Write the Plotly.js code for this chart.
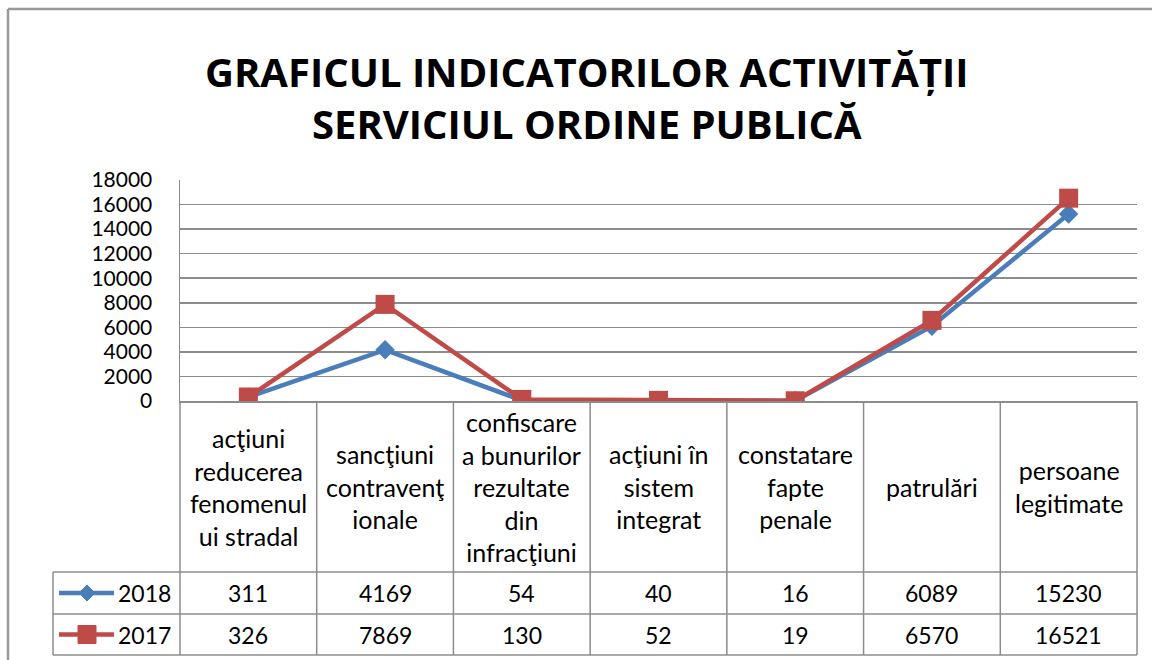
<!DOCTYPE html>
<html>
<head>
<meta charset="utf-8">
<script src="https://cdn.plot.ly/plotly-3.0.1.min.js"></script>
<style>
html,body{margin:0;padding:0;background:#fff;}
#chart{width:1152px;height:660px;}
</style>
</head>
<body>
<div id="chart"></div>
<script>
// ---- data ----
const titleLines = ["GRAFICUL INDICATORILOR ACTIVITĂȚII", "SERVICIUL ORDINE PUBLICĂ"];
const categories = [
  "acţiuni<br>reducerea<br>fenomenul<br>ui stradal",
  "sancţiuni<br>contravenţ<br>ionale",
  "confiscare<br>a bunurilor<br>rezultate<br>din<br>infracţiuni",
  "acţiuni în<br>sistem<br>integrat",
  "constatare<br>fapte<br>penale",
  "patrulări",
  "persoane<br>legitimate"
];
const seriesNames = ["2018", "2017"];
const values2018 = [311, 4169, 54, 40, 16, 6089, 15230];
const values2017 = [326, 7869, 130, 52, 19, 6570, 16521];
const yTicks = [0, 2000, 4000, 6000, 8000, 10000, 12000, 14000, 16000, 18000];

// ---- styling ----
const W = 1152, H = 660;
const L = 180, R = 1137, T = 180, B = 401;   // plot area in px
const ROW1 = 572, ROW2 = 614, BOT = 655, LEGL = 53;
const BLUE = "#4A7EBB", RED = "#BE4B48", GRID = "#8C8C8C";
const FONT = "Lato, 'Open Sans', sans-serif";
const TFONT = "'Open Sans', 'DejaVu Sans Condensed', sans-serif";
const n = categories.length;

const px2x = p => (p - L) / (R - L);
const px2y = p => (B - p) / (B - T);
const catEdge = i => i / n;  // paper x of boundary i, axis range [-0.5, n-0.5]

const traces = [
  {x: categories.map((c, i) => i), y: values2018, name: seriesNames[0], type: "scatter", mode: "lines+markers",
   line: {color: BLUE, width: 4.5}, marker: {symbol: "diamond", size: 15, color: BLUE}},
  {x: categories.map((c, i) => i), y: values2017, name: seriesNames[1], type: "scatter", mode: "lines+markers",
   line: {color: RED, width: 4.5}, marker: {symbol: "square", size: 19, color: RED}}
];

const shapes = [];
const line = (x0, y0, x1, y1, color, width) => shapes.push({type: "line", xref: "paper", yref: "paper",
  x0: x0, y0: y0, x1: x1, y1: y1, line: {color: color, width: width}, layer: "above"});

// outer frame (top and left)
line(px2x(8), px2y(9), px2x(W + 5), px2y(9), "#999999", 2.5);
line(px2x(8), px2y(9), px2x(8), px2y(H + 5), "#999999", 2.5);

// table vertical separators
for (let i = 0; i <= n; i++) {
  line(catEdge(i), 0, catEdge(i), px2y(BOT), GRID, 1.5);
}
line(px2x(LEGL), px2y(ROW1), px2x(LEGL), px2y(BOT), GRID, 1.5);
[ROW1, ROW2, BOT].forEach(r => line(px2x(LEGL), px2y(r), 1, px2y(r), GRID, 1.5));

// legend keys inside the table
const keyY = [(ROW1 + ROW2) / 2, (ROW2 + BOT) / 2];
const keyColors = [BLUE, RED];
keyY.forEach((yy, k) => {
  shapes.push({type: "line", xref: "paper", yref: "paper", x0: px2x(59), x1: px2x(114), y0: px2y(yy), y1: px2y(yy),
    line: {color: keyColors[k], width: 4.5}, layer: "above"});
});
(function () {
  const cx = 87, d = 8, s = 9;
  const y0 = keyY[0], y1 = keyY[1];
  shapes.push({type: "path", xref: "paper", yref: "paper", layer: "above",
    path: `M ${px2x(cx)},${px2y(y0 - d)} L ${px2x(cx + d)},${px2y(y0)} L ${px2x(cx)},${px2y(y0 + d)} L ${px2x(cx - d)},${px2y(y0)} Z`,
    fillcolor: BLUE, line: {color: BLUE, width: 1}});
  shapes.push({type: "path", xref: "paper", yref: "paper", layer: "above",
    path: `M ${px2x(cx - s)},${px2y(y1 - s)} L ${px2x(cx + s)},${px2y(y1 - s)} L ${px2x(cx + s)},${px2y(y1 + s)} L ${px2x(cx - s)},${px2y(y1 + s)} Z`,
    fillcolor: RED, line: {color: RED, width: 1}});
})();

const annotations = [];
// title (two lines)
annotations.push({xref: "paper", yref: "paper", x: px2x(587), y: px2y(97), text: "<b>" + titleLines.join("<br>") + "</b>",
  showarrow: false, xanchor: "center", yanchor: "middle", align: "center",
  font: {family: TFONT, size: 40, color: "#000", weight: "bold"}});
const headerMid = px2y((B + ROW1) / 2);
categories.forEach((c, i) => {
  annotations.push({xref: "x", yref: "paper", x: i, y: headerMid, text: c, showarrow: false,
    xanchor: "center", yanchor: "middle", align: "center", font: {family: FONT, size: 25, color: "#000"}});
  annotations.push({xref: "x", yref: "paper", x: i, y: px2y(keyY[0]), text: String(values2018[i]), showarrow: false,
    xanchor: "center", yanchor: "middle", font: {family: FONT, size: 23, color: "#000"}});
  annotations.push({xref: "x", yref: "paper", x: i, y: px2y(keyY[1]), text: String(values2017[i]), showarrow: false,
    xanchor: "center", yanchor: "middle", font: {family: FONT, size: 23, color: "#000"}});
});
seriesNames.forEach((s, k) => {
  annotations.push({xref: "paper", yref: "paper", x: px2x(116), y: px2y(keyY[k]), text: s, showarrow: false,
    xanchor: "left", yanchor: "middle", font: {family: FONT, size: 23, color: "#000"}});
});

const layout = {
  width: W, height: H,
  margin: {l: L, r: W - R, t: T, b: H - B, pad: 0},
  paper_bgcolor: "#fff", plot_bgcolor: "#fff",
  showlegend: false,
  xaxis: {range: [-0.5, n - 0.5], showticklabels: false, showgrid: false, zeroline: false,
    showline: true, linecolor: GRID, linewidth: 1.5, ticks: "", fixedrange: true},
  yaxis: {range: [0, 18000], tickvals: yTicks, ticktext: yTicks.map(String), showgrid: true,
    gridcolor: GRID, gridwidth: 1.5, zeroline: false, showline: true, linecolor: GRID, linewidth: 1.5,
    ticks: "", ticklabelstandoff: 22, tickfont: {family: FONT, size: 21, color: "#000"}, fixedrange: true},
  shapes: shapes,
  annotations: annotations
};

Plotly.newPlot("chart", traces, layout, {staticPlot: true});
</script>
</body>
</html>
